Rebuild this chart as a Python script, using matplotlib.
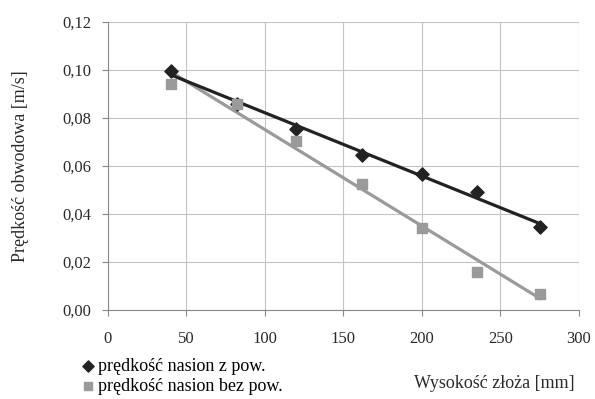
import numpy as np
import matplotlib
matplotlib.use('Agg')
import matplotlib.pyplot as plt

plt.rcParams['font.family'] = ['Liberation Serif', 'DejaVu Serif']

# data
x_z = [40, 82, 120, 162, 200, 235, 275]
v_z = [0.0995, 0.086, 0.0755, 0.0645, 0.0568, 0.0492, 0.0345]
x_bez = [40, 82, 120, 162, 200, 235, 275]
v_bez = [0.0942, 0.0857, 0.0704, 0.0527, 0.0343, 0.0158, 0.0066]

lab_z = 'prędkość nasion z pow.'
lab_bez = 'prędkość nasion bez pow.'

black = '#222222'
grey = '#9a9a9a'
txt = '#2a2a2a'

fig = plt.figure(figsize=(5.95, 3.99), dpi=100)
ax = fig.add_axes([0.1815, 0.223, 0.7915, 0.722])

# linear trend lines
for xs, vs, c in [(x_bez, v_bez, grey), (x_z, v_z, black)]:
    a, b = np.polyfit(xs, vs, 1)
    xx = np.array([min(xs), max(xs)])
    ax.plot(xx, a * xx + b, color=c, lw=2.3, zorder=2)

ax.scatter(x_z, v_z, marker='D', s=45, color=black, zorder=3, label=lab_z)
ax.scatter(x_bez, v_bez, marker='s', s=55, color=grey, zorder=4, label=lab_bez)

ax.set_xlim(0, 300)
ax.set_ylim(0, 0.12)
ax.set_xticks(np.arange(0, 301, 50))
ax.set_yticks(np.arange(0, 0.121, 0.02))
ax.set_yticklabels([('%.2f' % t).replace('.', ',') for t in np.arange(0, 0.121, 0.02)])
ax.grid(True, color='#c4c4c4', lw=0.8)
ax.set_axisbelow(True)
for s in ['top', 'right']:
    ax.spines[s].set_visible(False)
for s in ['left', 'bottom']:
    ax.spines[s].set_color('#888888')
ax.tick_params(labelsize=12, colors='#888888', labelcolor=txt, length=4)
ax.tick_params(axis='y', pad=8)
ax.tick_params(axis='x', pad=11)

ax.set_ylabel('Prędkość obwodowa [m/s]', fontsize=13, color=txt, labelpad=24)
fig.text(0.966, 0.04, 'Wysokość złoża [mm]', fontsize=13, color=txt, ha='right', va='center')

fig.legend(loc='lower left', bbox_to_anchor=(0.105, -0.03), frameon=False,
           fontsize=13, handletextpad=0.05, labelspacing=0.15, markerscale=0.85, handlelength=1.0)

fig.savefig('out.png', dpi=100)
